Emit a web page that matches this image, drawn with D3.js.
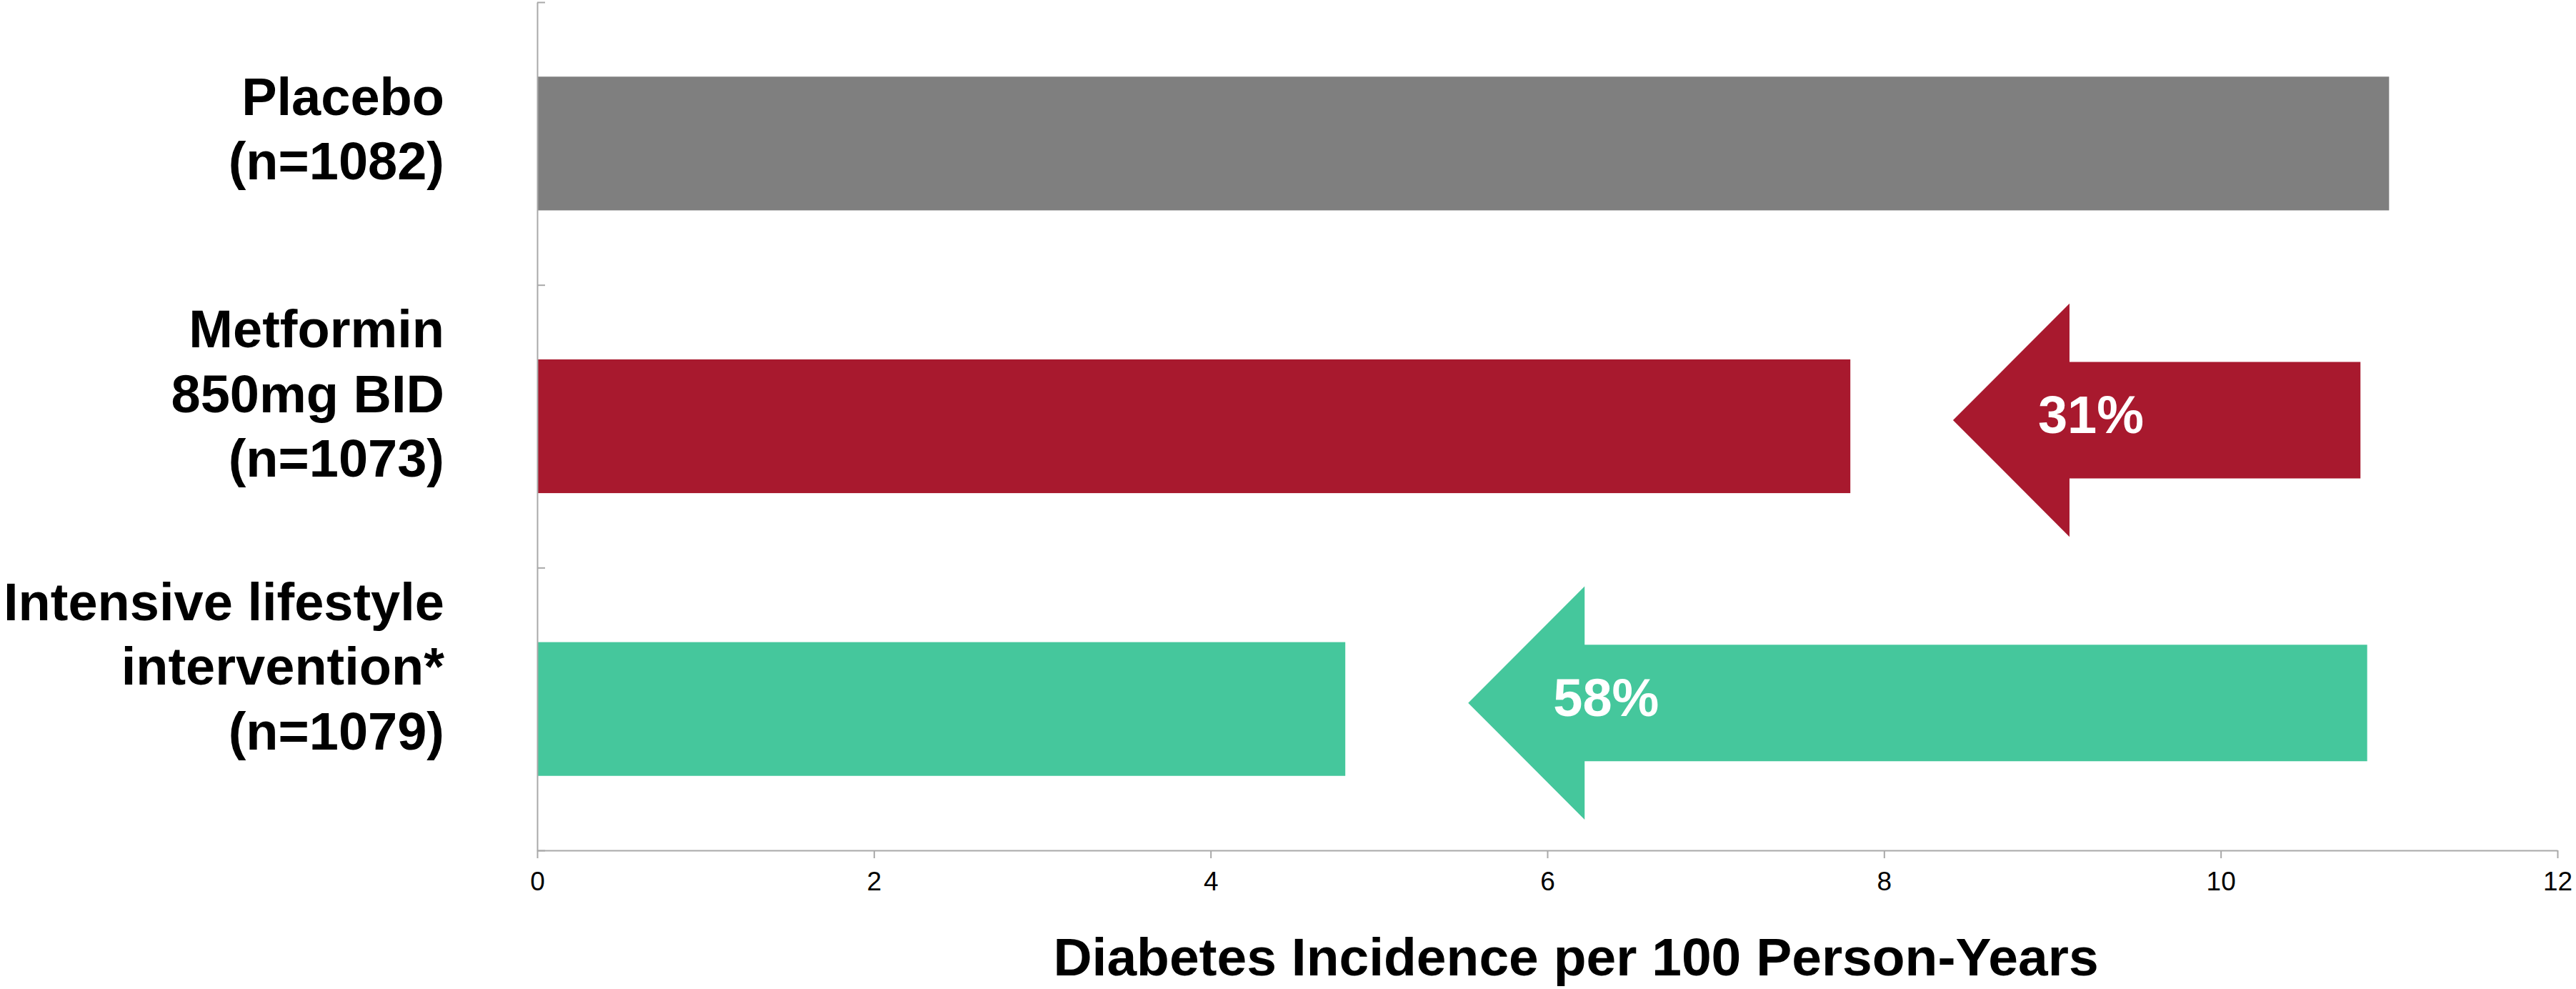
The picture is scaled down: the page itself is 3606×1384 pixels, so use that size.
<!DOCTYPE html>
<html>
<head>
<meta charset="utf-8">
<script src="https://cdn.jsdelivr.net/npm/d3@7"></script>
<style>
  html, body { margin: 0; padding: 0; background: #ffffff; }
  svg { display: block; font-family: "Liberation Sans", Arial, Helvetica, sans-serif; }
</style>
</head>
<body>
<svg id="chart" width="3606" height="1384"></svg>
<script>
// Treatment groups (top to bottom) and their diabetes incidence per 100 person-years
const groups = ["Placebo", "Metformin", "Lifestyle"];
const groupLabels = [
  ["Placebo", "(n=1082)"],
  ["Metformin", "850mg BID", "(n=1073)"],
  ["Intensive lifestyle", "intervention*", "(n=1079)"]
];
const incidence = [11.0, 7.8, 4.8];
const xTicks = [0, 2, 4, 6, 8, 10, 12];
const axisTitle = "Diabetes Incidence per 100 Person-Years";

// Relative-reduction arrows versus placebo (arrow tail and tip in incidence units)
const reductionLabels = [null, "31%", "58%"];
const arrowTail = [null, 10.83, 10.87];
const arrowTip = [null, 8.41, 5.53];

// Styling / layout
const barColors = ["#7f7f7f", "#a8192e", "#45c79c"];
const axisColor = "#a9a9a9";
const labelShift = [-13, -38, -52];   // vertical nudge of each group label block
const lineGap = 90.5;

const svg = d3.select("#chart");

const x = d3.scaleLinear().domain([0, 12]).range([752, 3580]);
const y = d3.scaleBand().domain(groups).range([3, 1190])
  .paddingInner(0.527).paddingOuter(0.2635);

// Bars
svg.append("g").selectAll("rect")
  .data(groups)
  .join("rect")
  .attr("x", x(0))
  .attr("y", d => y(d))
  .attr("width", (d, i) => x(incidence[i]) - x(0))
  .attr("height", y.bandwidth())
  .attr("fill", (d, i) => barColors[i]);

// Arrows showing the reduction relative to placebo
const step = y.step();
const headLen = 163;
groups.forEach((g, i) => {
  if (!reductionLabels[i]) return;
  const cy = y(g) + y.bandwidth() / 2 - 8.5;
  const tip = x(arrowTip[i]);
  const tail = x(arrowTail[i]);
  const headHalf = step * 0.4125;
  const shaftHalf = step * 0.206;
  const back = tip + headLen;
  const pts = [
    [tip, cy],
    [back, cy - headHalf],
    [back, cy - shaftHalf],
    [tail, cy - shaftHalf],
    [tail, cy + shaftHalf],
    [back, cy + shaftHalf],
    [back, cy + headHalf]
  ];
  svg.append("path")
    .attr("d", d3.line()(pts) + "Z")
    .attr("fill", barColors[i]);
  svg.append("text")
    .attr("x", tip + 119)
    .attr("y", cy + 18)
    .attr("fill", "#ffffff")
    .attr("font-size", 74)
    .attr("font-weight", "bold")
    .text(reductionLabels[i]);
});

// X axis
const xAxis = svg.append("g")
  .attr("transform", "translate(0,1190)")
  .call(d3.axisBottom(x).tickValues(xTicks).tickSize(11).tickSizeOuter(0).tickPadding(19));
xAxis.select(".domain").attr("stroke", axisColor).attr("stroke-width", 2);
xAxis.selectAll(".tick line").attr("stroke", axisColor).attr("stroke-width", 2);
xAxis.selectAll(".tick text").attr("font-size", 37).attr("fill", "#000")
  .attr("font-family", "\"Liberation Sans\", Arial, sans-serif");

// Y axis: a rule with inward ticks at the group boundaries
const yEdge = d3.scaleLinear().domain([0, groups.length]).range([3, 1190]);
const yAxis = svg.append("g")
  .attr("transform", `translate(${x(0)},0)`)
  .call(d3.axisLeft(yEdge).tickValues(d3.range(groups.length + 1))
    .tickSize(-11).tickSizeOuter(0).tickFormat(""));
yAxis.select(".domain").attr("stroke", axisColor).attr("stroke-width", 2);
yAxis.selectAll(".tick line").attr("stroke", axisColor).attr("stroke-width", 2);

// Group labels
groups.forEach((g, i) => {
  const lines = groupLabels[i];
  const cy = y(g) + y.bandwidth() / 2 + labelShift[i];
  const first = cy - (lines.length - 1) * lineGap / 2 + 18;
  const t = svg.append("text")
    .attr("text-anchor", "end")
    .attr("font-size", 74)
    .attr("font-weight", "bold")
    .attr("fill", "#000");
  lines.forEach((line, k) => {
    t.append("tspan").attr("x", 622).attr("y", first + k * lineGap).text(line);
  });
});

// Axis title
svg.append("text")
  .attr("x", 2206)
  .attr("y", 1365)
  .attr("text-anchor", "middle")
  .attr("font-size", 75)
  .attr("font-weight", "bold")
  .attr("fill", "#000")
  .text(axisTitle);
</script>
</body>
</html>
